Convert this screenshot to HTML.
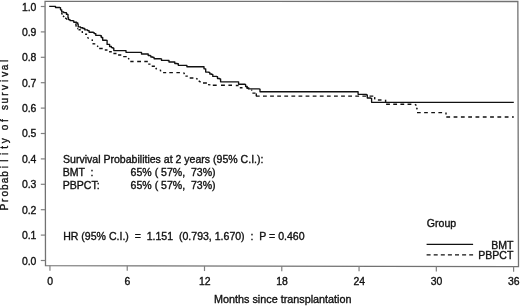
<!DOCTYPE html><html><head><meta charset="utf-8"><title>Survival</title><style>html,body{margin:0;padding:0;background:#fff}body{width:520px;height:306px;overflow:hidden;position:relative}svg{position:absolute;left:0;top:0;display:block;filter:grayscale(1)}text{font-family:"Liberation Sans",sans-serif;fill:#111;stroke:#111;stroke-width:0.35px}</style></head><body>
<svg width="520" height="306" viewBox="0 0 520 306">
<rect x="0" y="0" width="520" height="306" fill="#fff"/>
<polygon points="45.05,1.4 517.85,1.5 518.5,266.6 45.5,265.6" fill="none" stroke="#727272" stroke-width="1.3"/>
<g stroke="#808080" stroke-width="1.2">
<line x1="40.8" y1="260.50" x2="45.2" y2="260.50"/>
<line x1="40.8" y1="235.10" x2="45.2" y2="235.10"/>
<line x1="40.8" y1="209.70" x2="45.2" y2="209.70"/>
<line x1="40.8" y1="184.30" x2="45.2" y2="184.30"/>
<line x1="40.8" y1="158.90" x2="45.2" y2="158.90"/>
<line x1="40.8" y1="133.50" x2="45.2" y2="133.50"/>
<line x1="40.8" y1="108.10" x2="45.2" y2="108.10"/>
<line x1="40.8" y1="82.70" x2="45.2" y2="82.70"/>
<line x1="40.8" y1="57.30" x2="45.2" y2="57.30"/>
<line x1="40.8" y1="31.90" x2="45.2" y2="31.90"/>
<line x1="40.8" y1="6.50" x2="45.2" y2="6.50"/>
<line x1="49.95" y1="265.61" x2="49.95" y2="270.71"/>
<line x1="127.23" y1="265.77" x2="127.23" y2="270.87"/>
<line x1="204.50" y1="265.94" x2="204.50" y2="271.04"/>
<line x1="281.78" y1="266.10" x2="281.78" y2="271.20"/>
<line x1="359.05" y1="266.26" x2="359.05" y2="271.36"/>
<line x1="436.33" y1="266.43" x2="436.33" y2="271.53"/>
<line x1="513.60" y1="266.59" x2="513.60" y2="271.69"/>
</g>
<g font-size="10.45">
<text x="36.4" y="264.80" text-anchor="end">0.0</text>
<text x="36.4" y="239.00" text-anchor="end">0.1</text>
<text x="36.4" y="213.60" text-anchor="end">0.2</text>
<text x="36.4" y="188.20" text-anchor="end">0.3</text>
<text x="36.4" y="162.80" text-anchor="end">0.4</text>
<text x="36.4" y="137.40" text-anchor="end">0.5</text>
<text x="36.4" y="112.00" text-anchor="end">0.6</text>
<text x="36.4" y="86.60" text-anchor="end">0.7</text>
<text x="36.4" y="61.20" text-anchor="end">0.8</text>
<text x="36.4" y="35.80" text-anchor="end">0.9</text>
<text x="36.4" y="10.90" text-anchor="end">1.0</text>
<text x="50.25" y="284.6" text-anchor="middle">0</text>
<text x="127.53" y="284.6" text-anchor="middle">6</text>
<text x="204.80" y="284.6" text-anchor="middle">12</text>
<text x="282.08" y="284.6" text-anchor="middle">18</text>
<text x="359.35" y="284.6" text-anchor="middle">24</text>
<text x="436.63" y="284.6" text-anchor="middle">30</text>
<text x="519.5" y="284.5" text-anchor="end">36</text>
</g>
<g fill="none" stroke="#111" stroke-width="1.45">
<path d="M61.6,12.5L62.2,14.6M63.0,15.8L64.2,17.0M65.2,17.9L67.4,19.5M75.8,23.5L76.2,26.6M77.4,28.2L78.0,29.0M78.5,29.7L80.7,29.7M82.2,31.2L82.4,33.0M85.1,34.3L87.1,34.3M87.5,37.3L88.6,38.6M92.2,39.4L92.3,41.0M92.5,43.8L95.3,43.9M97.3,45.6L98.0,46.8M99.2,48.5L102.7,48.5M104.8,50L107.5,50M109.1,51.8L111.8,51.8M113.4,53.5L116.5,53.5M118.1,54.9L121.3,54.9M123.2,56.6L126.7,56.6M128.3,58.0L129.1,59.4M130.3,61.4L133.6,61.4M137.2,61.4L141.0,61.4M144.3,61.4L147.8,61.4M148.2,64.1L150.5,64.1M151.7,66.2L154.9,66.2M155.8,67.9L156.6,69.4M160.3,69.6L160.7,71.4M163.1,72.6L166.2,72.6M169.3,72.6L172.9,72.6M176.4,72.6L179.9,72.6M183.6,72.5L184.5,74.2M185.4,76.1L187.8,76.1M189.7,78.0L193.4,78.0M196.3,78.3L197.5,79.4M198.7,80.9L200.6,82.1M203,82.9L206.9,82.9M208,84.6L210.4,84.9M212.8,85.3L216.7,85.3M221,85.3L224.9,85.3M228.4,85.3L232,85.3M235.8,85.4L238.6,85.4M239.8,87.7L242.5,87.7M246.3,87.7L248.8,88.9M251.1,90.1L252.3,90.1M252.4,93.1L255.5,93.1"/>
<path d="M256.3,93.4V96.1"/>
<path d="M255.9,96.1H374.2" stroke-dasharray="3.8 3.3"/>
<path d="M374.7,97.1V99.4"/>
<path d="M377.9,100H381.5"/>
<path d="M385.6,99.7V102.6"/>
<path d="M386.1,104.3H414.5" stroke-dasharray="3.8 3.35"/>
<path d="M415.0,104.2L416.4,105.6"/>
<path d="M416.5,107.8L417.3,109.4"/>
<path d="M417,112.6H445" stroke-dasharray="3.7 3.43"/>
<path d="M446,112.4V114.6"/>
<path d="M446.3,117H513.8" stroke-dasharray="3.8 3.5"/>
</g>
<path d="M49.2,6.3H54.7H55.5V7.5H59.8V7.6H60.5V9.8H61.7V11.8H63.7V12.6H66.4V14.2H67.6V14.5H68V17.7H68.5V19.6H70V20.6H73.1V20.9H73.8V22.2H76.6V23H77.8V24.2H78.2V26.9H80.5V27.7H82.9V28.5H84.8V29.9H87.6V30.6H89.1V32.2H93.3V32.6H94.2V33.6H95.8V35.4H100.4V35.7H101.3V37.5H102.7V40.2H106.4V40.4H107.1V44.4H109.6V46.5H111.4V47.6H113V48.2H113.8V50.6H124.8H126V52.3H140.4H141.5V54H147H148.2V55.5H150.2V55.8H150.9V57H152.9V57.4H154.1V58.7H160.4V58.8H161.5V60.4H167.8V60.5H169V62H174H174.8V63.5H177.1V63.7H178.3V65.3H186.1V65.4H186.9V66.7H203H204V68.8H205.7V72.1H208.9V72.4H209.8V74H211.6V74.4H212.8V76.4H216.7V76.6H217.5V78.5H219.5V78.9H220.6V81.8H238.2H238.6V84.2H244.9V84.4H245.6V86.5H247.2V87.8H248.8V88.9H259.4V89.1H260V91.7H357.5H358.1V94.3H366.5V94.9H367.3V98H370.8V98.3H371.6V102.3H513.8" fill="none" stroke="#111" stroke-width="1.35" stroke-linejoin="round"/>
<line x1="426.6" y1="244.3" x2="473.1" y2="244.3" stroke="#111" stroke-width="1.3"/>
<line x1="426.6" y1="254.9" x2="473.1" y2="254.9" stroke="#111" stroke-width="1.4" stroke-dasharray="4 3.1"/>
<g font-size="10.55">
<text x="426.8" y="226.8">Group</text>
<text x="513.4" y="248.8" text-anchor="end">BMT</text>
<text x="513.4" y="259.2" text-anchor="end">PBPCT</text>
<text id="l1" x="63.0" y="162.6" style="white-space:pre">Survival Probabilities at 2 years (95% C.I.):</text>
<text x="62.7" y="176.1" style="white-space:pre">BMT  :</text>
<text x="62.7" y="188.9" style="white-space:pre">PBPCT:</text>
<text x="130.6" y="176.1" style="white-space:pre">65% ( 57%,  73%)</text>
<text x="130.6" y="188.9" style="white-space:pre">65% ( 57%,  73%)</text>
<text x="63.2" y="239.5" style="white-space:pre">HR (95% C.I.)  =  1.151  (0.793, 1.670)  :  P = 0.460</text>
<text id="xt" x="282.8" y="302.7" text-anchor="middle" font-size="10.8">Months since transplantation</text>
</g>
<g font-size="10.1" text-anchor="middle">
<text transform="translate(8.2,207.08) rotate(-90)" x="0" y="0">P</text>
<text transform="translate(8.2,200.43) rotate(-90)" x="0" y="0">r</text>
<text transform="translate(8.2,193.79) rotate(-90)" x="0" y="0">o</text>
<text transform="translate(8.2,187.14) rotate(-90)" x="0" y="0">b</text>
<text transform="translate(8.2,180.50) rotate(-90)" x="0" y="0">a</text>
<text transform="translate(8.2,173.85) rotate(-90)" x="0" y="0">b</text>
<text transform="translate(8.2,167.21) rotate(-90)" x="0" y="0">i</text>
<text transform="translate(8.2,160.56) rotate(-90)" x="0" y="0">l</text>
<text transform="translate(8.2,153.92) rotate(-90)" x="0" y="0">i</text>
<text transform="translate(8.2,147.27) rotate(-90)" x="0" y="0">t</text>
<text transform="translate(8.2,140.63) rotate(-90)" x="0" y="0">y</text>
<text transform="translate(8.2,127.34) rotate(-90)" x="0" y="0">o</text>
<text transform="translate(8.2,120.69) rotate(-90)" x="0" y="0">f</text>
<text transform="translate(8.2,107.40) rotate(-90)" x="0" y="0">s</text>
<text transform="translate(8.2,100.76) rotate(-90)" x="0" y="0">u</text>
<text transform="translate(8.2,94.11) rotate(-90)" x="0" y="0">r</text>
<text transform="translate(8.2,87.47) rotate(-90)" x="0" y="0">v</text>
<text transform="translate(8.2,80.82) rotate(-90)" x="0" y="0">i</text>
<text transform="translate(8.2,74.18) rotate(-90)" x="0" y="0">v</text>
<text transform="translate(8.2,67.53) rotate(-90)" x="0" y="0">a</text>
<text transform="translate(8.2,60.89) rotate(-90)" x="0" y="0">l</text>
</g>
</svg></body></html>
